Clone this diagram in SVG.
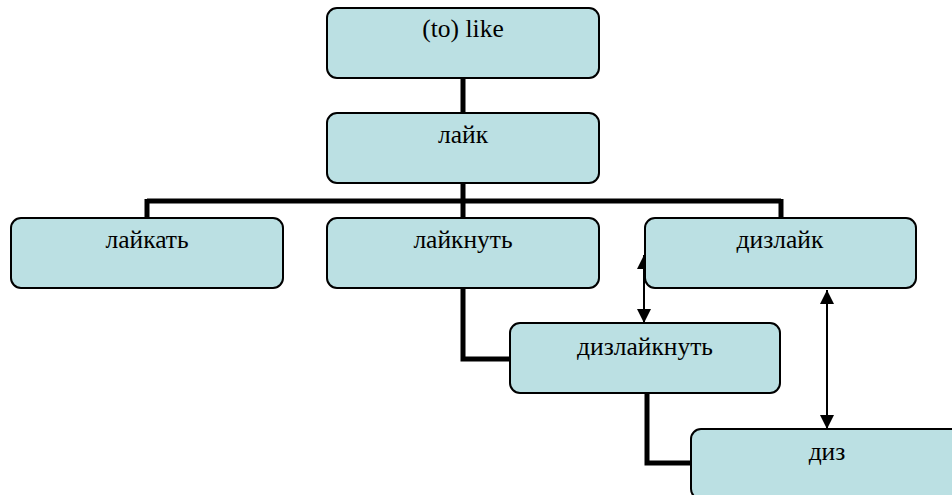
<svg xmlns="http://www.w3.org/2000/svg" width="952" height="495" viewBox="0 0 952 495">
<defs>
<style>
.box{fill:#bbe0e3;stroke:#000;stroke-width:2}
.t{font-family:"Liberation Serif","Times New Roman",serif;font-size:25.5px;fill:#000;text-anchor:middle}
.tree{fill:none;stroke:#000;stroke-width:5}
.arr{fill:none;stroke:#000;stroke-width:2;marker-start:url(#ah);marker-end:url(#ah)}
</style>
<marker id="ah" viewBox="0 0 14 14" refX="14" refY="7" markerWidth="14" markerHeight="14" markerUnits="userSpaceOnUse" orient="auto-start-reverse">
<path d="M0,0 L14,7 L0,14 Z" fill="#000"/>
</marker>
</defs>
<rect width="952" height="495" fill="#fff"/>
<g id="connectors">
<path class="tree" d="M463,78 V113"/>
<path class="tree" d="M463,183 V201 M147,201 H781 M147,199 V218 M463,201 V218 M781,199 V218"/>
<path class="tree" d="M463,288 V359 H510"/>
<path class="tree" d="M647,393 V463 H691"/>
<path class="arr" d="M644,255 V323"/>
<path class="arr" d="M827,290 V429"/>
</g>
<g id="n-like"><rect class="box" x="327" y="8" width="272" height="70" rx="10"/><text class="t" x="463" y="37">(to) like</text></g>
<g id="n-layk"><rect class="box" x="327" y="113" width="272" height="70" rx="10"/><text class="t" x="463" y="143">лайк</text></g>
<g id="n-laykat"><rect class="box" x="11" y="218" width="272" height="70" rx="10"/><text class="t" x="147" y="248">лайкать</text></g>
<g id="n-layknut"><rect class="box" x="327" y="218" width="272" height="70" rx="10"/><text class="t" x="463" y="248">лайкнуть</text></g>
<g id="n-dizlayk"><rect class="box" x="645" y="218" width="271" height="70" rx="10"/><text class="t" x="780" y="248">дизлайк</text></g>
<g id="n-dizlayknut"><rect class="box" x="510" y="323" width="270" height="70" rx="10"/><text class="t" x="645" y="355">дизлайкнуть</text></g>
<g id="n-diz"><rect class="box" x="691" y="429" width="272" height="70" rx="10"/><text class="t" x="827" y="460">диз</text></g>
</svg>
